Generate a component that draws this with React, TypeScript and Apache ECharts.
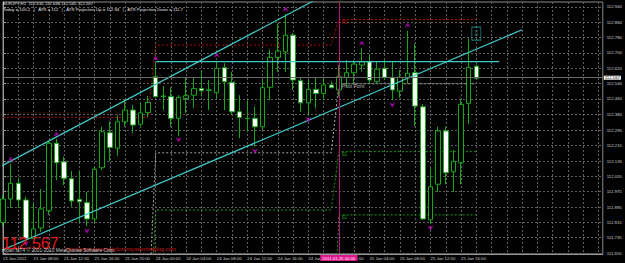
import React, { useEffect, useRef } from 'react';
import * as echarts from 'echarts';

// ---- categories (hourly bars) ----
const days = ['21 Jan', '24 Jan', '25 Jan'];
const dayHours = [[4, 23], [0, 23], [0, 18]];
const barLabels: string[] = [];
const barDay: number[] = [];
days.forEach((d, di) => {
  for (let h = dayHours[di][0]; h <= dayHours[di][1]; h++) {
    barLabels.push(`${d} ${String(h).padStart(2, '0')}:00`);
    barDay.push(di);
  }
});
barLabels[0] = '21 Jan 2011';

const xLabelIndex = [0, 4, 8, 12, 16, 20, 24, 28, 32, 36, 40, 44, 48, 52, 56, 60];
const xGridIndex = [0, 2, 4, 6, 8, 10, 12, 14, 16, 18, 20, 22, 24, 26, 28, 30, 32, 34, 36, 38, 40, 42, 44, 46, 48, 50, 52, 54, 56, 58, 60, 62, 64, 66, 68, 70, 72, 74, 76, 78];
const yTicks = [111.655, 111.735, 111.815, 111.895, 111.975, 112.055, 112.135, 112.215, 112.295, 112.38, 112.46, 112.54, 112.62, 112.7, 112.78, 112.86, 112.94];

// ---- OHLC ----
const opens = [111.815, 111.937, 112.019, 111.932, 111.733, 111.786, 111.876, 112.228, 112.131, 112.043, 111.935, 111.918, 111.833, 112.100, 112.283, 112.202, 112.340, 112.401, 112.327, 112.389,
  112.575, 112.475, 112.471, 112.358, 112.462, 112.479, 112.514, 112.506, 112.492, 112.622, 112.546, 112.392, 112.358, 112.358, 112.314, 112.520, 112.676, 112.705, 112.792, 112.554, 112.439, 112.509, 112.488, 112.532,
  112.506, 112.572, 112.596, 112.636, 112.653, 112.549, 112.619, 112.570, 112.500, 112.572, 112.596, 112.418, 111.828, 112.014, 112.292, 112.079, 112.126, 112.436, 112.630];
const highs = [111.958, 112.120, 112.047, 111.949, 111.916, 111.989, 112.240, 112.250, 112.158, 112.083, 112.083, 111.973, 112.104, 112.314, 112.340, 112.375, 112.453, 112.427, 112.438, 112.474,
  112.645, 112.526, 112.520, 112.479, 112.568, 112.567, 112.610, 112.558, 112.653, 112.646, 112.601, 112.479, 112.453, 112.418, 112.558, 112.714, 112.853, 112.902, 112.803, 112.568, 112.558, 112.568, 112.568, 112.549,
  112.636, 112.662, 112.662, 112.723, 112.688, 112.652, 112.662, 112.653, 112.610, 112.815, 112.749, 112.433, 112.097, 112.314, 112.314, 112.193, 112.459, 112.775, 112.638];
const lows = [111.796, 111.890, 111.890, 111.725, 111.730, 111.765, 111.854, 112.036, 112.010, 111.897, 111.812, 111.796, 111.812, 112.088, 112.132, 112.161, 112.314, 112.281, 112.318, 112.366,
  112.469, 112.401, 112.314, 112.266, 112.386, 112.412, 112.471, 112.401, 112.462, 112.401, 112.375, 112.255, 112.288, 112.210, 112.297, 112.453, 112.601, 112.601, 112.506, 112.392, 112.375, 112.410, 112.453, 112.514,
  112.471, 112.523, 112.540, 112.601, 112.540, 112.540, 112.558, 112.455, 112.465, 112.542, 112.318, 111.827, 111.807, 111.972, 112.014, 111.972, 112.014, 112.328, 112.565];
const closes = [111.937, 112.019, 111.932, 111.732, 111.781, 111.885, 112.228, 112.126, 112.045, 111.927, 111.923, 111.833, 112.092, 112.288, 112.206, 112.340, 112.401, 112.323, 112.386, 112.441,
  112.471, 112.472, 112.358, 112.467, 112.476, 112.514, 112.502, 112.505, 112.619, 112.549, 112.392, 112.363, 112.357, 112.314, 112.518, 112.676, 112.709, 112.792, 112.558, 112.439, 112.509, 112.488, 112.532, 112.518,
  112.575, 112.596, 112.641, 112.653, 112.558, 112.614, 112.572, 112.506, 112.572, 112.593, 112.422, 111.833, 112.001, 112.292, 112.074, 112.132, 112.431, 112.624, 112.567];

// ---- fractal arrows ----
const fractalUp = [[1, 112.146], [7, 112.276], [20, 112.672], [28, 112.688], [37, 112.928], [47, 112.751], [53, 112.845]];
const fractalDown = [[3, 111.703], [11, 111.770], [23, 112.245], [33, 112.187], [40, 112.350], [51, 112.428], [56, 111.786]];

// ---- daily levels (21 Jan, 24 Jan, 25 Jan) ----
const r1 = [112.363, 112.740, 112.874];
const pivot = [111.30, 112.178, 112.538];
const s1 = [111.10, 111.880, 112.184];
const s2 = [110.80, 110.90, 111.854];

// ---- trend lines ----
const upperTrend = [[-1, 112.092], [42, 112.999]];
const lowerTrend = [[-1, 111.656], [68, 112.820]];
const resistance = [[20, 112.654], [65, 112.654]];
const bidPrice = 112.567;
const sellSignal = [[62, 112.80]];
const separatorIndex = 44;

const FONT = 'Liberation Sans';

export default function App() {
  const ref = useRef<HTMLDivElement>(null);
  useEffect(() => {
    if (!ref.current) return;
    const chart = echarts.init(ref.current, null, { renderer: 'svg' });
    const candles = opens.map((o, i) => [i, o, closes[i], lows[i], highs[i]]);
    const level = (lv: number[]) => barDay.map((d, i) => [i, lv[d]]);
    const levelSeries = (lv: number[], color: string, name: string, labelColor: string) => ({
      type: 'line',
      data: level(lv),
      showSymbol: false,
      silent: true,
      z: 1,
      lineStyle: { color, width: 1, type: [2, 2] },
      markPoint: {
        symbol: 'circle',
        symbolSize: 1,
        itemStyle: { color: 'rgba(0,0,0,0)' },
        label: { show: true, position: 'right', distance: 2, offset: [0, 3], formatter: name, color: labelColor, fontSize: 4.8, fontFamily: FONT },
        data: [{ coord: [separatorIndex, lv[2]] }],
      },
    });
    const trend = (data: number[][], width = 1.2) => ({
      type: 'line',
      data,
      showSymbol: false,
      silent: true,
      z: 4,
      lineStyle: { color: '#3fc9c9', width },
    });
    chart.setOption({
      animation: false,
      backgroundColor: '#000000',
      grid: { left: 1, right: 19, top: 2, bottom: 9, show: true, backgroundColor: '#000000', borderColor: '#8c8c8c', borderWidth: 1 },
      xAxis: {
        type: 'value',
        min: 0,
        max: 78.57,
        axisLine: { show: true, lineStyle: { color: '#9a9a9a' } },
        axisTick: { show: false, customValues: xGridIndex },
        splitLine: { show: true, lineStyle: { color: '#5e5e5e', width: 1, type: [2, 2] } },
        axisLabel: {
          customValues: xLabelIndex,
          formatter: (v: number) => barLabels[Math.round(v)] ?? '',
          align: 'left',
          margin: 2,
          fontSize: 4.3,
          color: '#d0d0d0',
          fontFamily: FONT,
        },
      },
      yAxis: {
        type: 'value',
        position: 'right',
        min: 111.65,
        max: 112.965,
        axisLine: { show: true, lineStyle: { color: '#9a9a9a' } },
        axisTick: { show: true, length: 3, customValues: yTicks, lineStyle: { color: '#9a9a9a' } },
        splitLine: { show: true, lineStyle: { color: '#5e5e5e', width: 1, type: [2, 2] } },
        axisLabel: {
          customValues: yTicks,
          formatter: (v: number) => v.toFixed(3),
          margin: 4,
          fontSize: 4.3,
          color: '#d0d0d0',
          fontFamily: FONT,
        },
      },
      series: [
        levelSeries(r1, '#b80000', 'R1', '#c01010'),
        levelSeries(pivot, '#a8a8a8', 'Pivot Point', '#b8b8b8'),
        levelSeries(s1, '#0f9a0f', 'S1', '#12a012'),
        levelSeries(s2, '#0f9a0f', 'S1', '#12a012'),
        {
          type: 'candlestick',
          data: candles,
          barWidth: 5,
          z: 2,
          itemStyle: { color: '#000000', color0: '#ffffff', borderColor: '#14a814', borderColor0: '#14a814', borderWidth: 1 },
          markLine: {
            symbol: 'none',
            silent: true,
            data: [
              {
                yAxis: bidPrice,
                lineStyle: { color: '#6a6a6a', type: 'solid', width: 1 },
                label: { show: true, position: 'end', distance: 1, formatter: bidPrice.toFixed(3), backgroundColor: '#ffffff', color: '#000000', fontSize: 4.3, fontFamily: FONT, padding: [0, 1] },
              },
              {
                xAxis: separatorIndex,
                lineStyle: { color: '#b8127a', type: 'solid', width: 1 },
                label: { show: true, position: 'start', distance: 1, formatter: '2011.01.25 00:00', backgroundColor: '#e0148c', color: '#ffffff', fontSize: 4.3, fontFamily: FONT, padding: [1, 2] },
              },
            ],
          },
        },
        trend(upperTrend),
        trend(lowerTrend),
        trend(resistance, 1.4),
        {
          type: 'scatter',
          data: fractalUp,
          symbol: 'path://M0,10 L5,0 L10,10 L5,7 Z',
          symbolSize: [6, 5],
          itemStyle: { color: '#c400c4' },
          z: 5,
          silent: true,
        },
        {
          type: 'scatter',
          data: fractalDown,
          symbol: 'path://M0,0 L5,10 L10,0 L5,3 Z',
          symbolSize: [6, 5],
          itemStyle: { color: '#c400c4' },
          z: 5,
          silent: true,
        },
        {
          type: 'scatter',
          data: sellSignal,
          symbol: 'rect',
          symbolSize: [9, 13],
          itemStyle: { color: 'rgba(0,0,0,0)', borderColor: '#2a8f8f', borderWidth: 1 },
          label: { show: true, position: 'inside', formatter: '\u21E9', color: '#3aa8a8', fontSize: 8, fontFamily: 'DejaVu Sans' },
          z: 5,
          silent: true,
        },
      ],
      graphic: [
        { type: 'text', left: 3, top: 1, z: 10, style: { text: 'EURJPY,H1  112.630 112.638 112.565 112.567', fill: '#e0e0e0', font: `4.3px ${FONT}` } },
        { type: 'text', left: 3, top: 7.5, z: 10, style: { text: 'Today = 100.2   |   ATR = 112   |   ATR Projection Up = 112.94   |   ATR Projection Down = 111.7', fill: '#e0e0e0', font: `4.3px ${FONT}` } },
        { type: 'text', left: 2, top: 235, z: 10, style: { text: '112.567', fill: '#e01818', font: `16px ${FONT}` } },
        { type: 'text', left: 65, top: 245.5, z: 10, style: { text: 'http://www.automaticforexsystemtrading.com', fill: '#d01818', font: `5.6px ${FONT}` } },
        { type: 'text', left: 2, top: 248, z: 11, style: { text: 'Alpari MT4 \u00A9 2001-2010 MetaQuotes Software Corp.', fill: '#c8c8c8', font: `4.8px ${FONT}` } },
      ],
    });
    return () => chart.dispose();
  }, []);
  return <div ref={ref} style={{ position: 'fixed', left: 0, top: 0, width: 625, height: 263, background: '#000' }} />;
}
